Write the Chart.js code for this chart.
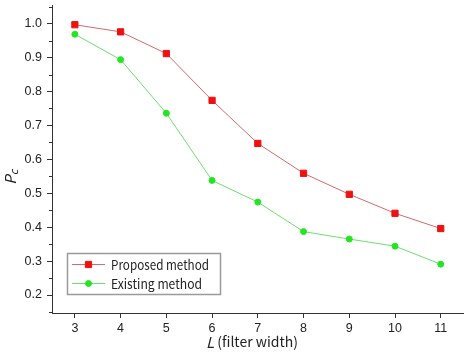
<!DOCTYPE html>
<html>
<head>
<meta charset="utf-8">
<script src="https://cdn.jsdelivr.net/npm/chart.js@4/dist/chart.umd.min.js"></script>
<style>
html,body{margin:0;padding:0;background:#fff;}
#wrap{width:469px;height:362px;position:relative;}
</style>
</head>
<body>
<div id="wrap"><canvas id="c" width="469" height="362"></canvas></div>
<script>
const filterWidths = [3, 4, 5, 6, 7, 8, 9, 10, 11];
const proposedValues = [0.997, 0.976, 0.912, 0.774, 0.647, 0.559, 0.497, 0.441, 0.396];
const existingValues = [0.969, 0.894, 0.736, 0.538, 0.474, 0.387, 0.365, 0.344, 0.291];
const seriesLabels = ['Proposed method', 'Existing method'];
const yTickValues = [0.2, 0.3, 0.4, 0.5, 0.6, 0.7, 0.8, 0.9, 1.0];
const yMinorValues = [0.15, 0.25, 0.35, 0.45, 0.55, 0.65, 0.75, 0.85, 0.95, 1.05];

const axisColor = '#333333';
const tickFont = {family: '"Liberation Sans", Arial, sans-serif', size: 12.5};
const labelFontFamily = '"Noto Sans CJK JP", "Noto Sans", sans-serif';

const extras = {
  id: 'extras',
  afterDraw(chart) {
    const ctx = chart.ctx;
    const y = chart.scales.y;
    const ca = chart.chartArea;
    ctx.save();
    // minor ticks
    ctx.strokeStyle = axisColor;
    ctx.lineWidth = 1;
    yMinorValues.forEach(v => {
      const py = Math.round(y.getPixelForValue(v)) + 0.5;
      ctx.beginPath();
      ctx.moveTo(ca.left, py);
      ctx.lineTo(ca.left - 3, py);
      ctx.stroke();
    });
    // x title
    ctx.fillStyle = '#222';
    ctx.textBaseline = 'middle';
    ctx.font = 'italic 15px ' + labelFontFamily;
    const lW = ctx.measureText('L').width;
    ctx.font = '14px ' + labelFontFamily;
    const rest = ' (filter width)';
    const rW = ctx.measureText(rest).width;
    const cx = 252;
    let sx = cx - (lW + rW) / 2;
    ctx.font = 'italic 15px ' + labelFontFamily;
    ctx.textAlign = 'left';
    ctx.fillText('L', sx, 342);
    ctx.font = '14px ' + labelFontFamily;
    ctx.fillText(rest, sx + lW, 342);
    // y title
    ctx.save();
    ctx.translate(10, 177);
    ctx.rotate(-Math.PI / 2);
    ctx.font = 'italic 15px ' + labelFontFamily;
    const pW = ctx.measureText('P').width;
    ctx.textAlign = 'left';
    ctx.fillText('P', -(pW + 6) / 2, 0);
    ctx.font = 'italic 11px ' + labelFontFamily;
    ctx.fillText('c', -(pW + 6) / 2 + pW, 4);
    ctx.restore();
    // legend
    const lx = 67, ly = 253, lw = 153, lh = 41;
    ctx.strokeStyle = '#9a9a9a';
    ctx.lineWidth = 1.5;
    ctx.strokeRect(lx + 0.5, ly + 0.5, lw, lh);
    const rows = [264, 283];
    chart.data.datasets.forEach((ds, i) => {
      const ry = rows[i] + 0.5;
      ctx.strokeStyle = ds.borderColor;
      ctx.lineWidth = 1;
      ctx.beginPath();
      ctx.moveTo(72, ry);
      ctx.lineTo(105, ry);
      ctx.stroke();
      ctx.fillStyle = ds.pointBackgroundColor;
      ctx.strokeStyle = ds.pointBorderColor;
      ctx.lineWidth = ds.pointBorderWidth;
      ctx.beginPath();
      if (ds.pointStyle === 'rect') {
        const s = 3.1;
        ctx.rect(88.5 - s, ry - s, 2 * s, 2 * s);
      } else {
        ctx.arc(88.5, ry, ds.pointRadius, 0, Math.PI * 2);
      }
      ctx.fill();
      ctx.stroke();
      ctx.fillStyle = '#222';
      ctx.font = '13.5px ' + labelFontFamily;
      ctx.textAlign = 'left';
      ctx.textBaseline = 'middle';
      const w = ctx.measureText(ds.label).width;
      const target = i === 0 ? 98 : 91;
      ctx.fillText(ds.label, 111, ry, Math.min(w, target));
    });
    ctx.restore();
  }
};

new Chart(document.getElementById('c'), {
  type: 'line',
  data: {
    datasets: [
      {
        label: seriesLabels[0],
        data: filterWidths.map((x, i) => ({x, y: proposedValues[i]})),
        borderColor: '#d46a6a',
        borderWidth: 1,
        pointStyle: 'rect',
        pointRadius: 4.4,
        pointBackgroundColor: '#ee1111',
        pointBorderColor: '#ee1111',
        pointBorderWidth: 1,
        tension: 0
      },
      {
        label: seriesLabels[1],
        data: filterWidths.map((x, i) => ({x, y: existingValues[i]})),
        borderColor: '#6ede6e',
        borderWidth: 1,
        pointStyle: 'circle',
        pointRadius: 3,
        pointBackgroundColor: '#22e622',
        pointBorderColor: '#22e622',
        pointBorderWidth: 1,
        tension: 0
      }
    ]
  },
  options: {
    responsive: false,
    animation: false,
    devicePixelRatio: 1,
    layout: {padding: {left: 0, right: 4, top: 5, bottom: 0}},
    plugins: {legend: {display: false}, tooltip: {enabled: false}},
    scales: {
      x: {
        type: 'linear',
        min: 2.5,
        max: 11.5,
        afterBuildTicks: s => { s.ticks = filterWidths.map(v => ({value: v})); },
        ticks: {color: '#222', font: tickFont, padding: 3, callback: v => String(v)},
        grid: {drawOnChartArea: false, drawTicks: true, tickLength: 5, tickColor: axisColor},
        border: {color: axisColor, width: 1},
        afterFit: s => { s.height = 49; s.paddingLeft = 0; s.paddingRight = 0; }
      },
      y: {
        type: 'linear',
        min: 0.147,
        max: 1.054,
        afterBuildTicks: s => { s.ticks = yTickValues.map(v => ({value: v})); },
        ticks: {color: '#222', font: tickFont, padding: 5, callback: v => Number(v).toFixed(1)},
        grid: {drawOnChartArea: false, drawTicks: true, tickLength: 5, tickColor: axisColor},
        border: {color: axisColor, width: 1},
        afterFit: s => { s.width = 52; s.paddingTop = 0; s.paddingBottom = 0; }
      }
    }
  },
  plugins: [extras]
});
</script>
</body>
</html>
